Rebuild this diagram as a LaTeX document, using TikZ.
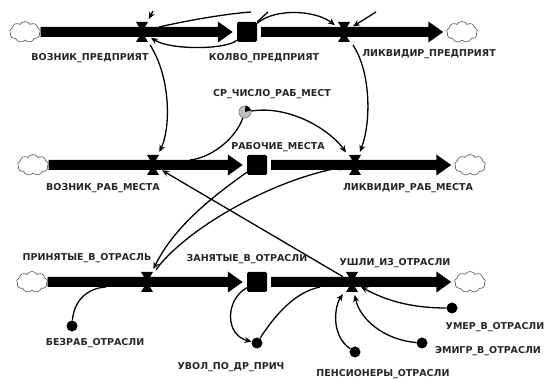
\documentclass[tikz,border=0pt]{standalone}
\usepackage{fontspec}
\setmainfont{DejaVu Sans}
\usetikzlibrary{arrows.meta,shapes.symbols}
\begin{document}
\begin{tikzpicture}[x=1pt,y=-1pt,
  lbl/.style={font=\bfseries\fontsize{9.5}{11}\selectfont, inner sep=0pt, text height=7pt, text depth=0pt, text=black!85},
  cloudn/.style={cloud, cloud puffs=9, cloud puff arc=120, aspect=1.5, draw=black!60, line width=0.7pt, minimum width=31pt, minimum height=21pt, inner sep=0pt},
  stock/.style={fill=black, minimum size=20pt, inner sep=0pt, rounded corners=1.5pt},
  valve/.style={minimum width=12pt, minimum height=20pt, inner sep=0pt, outer sep=3pt,
    path picture={\fill[black] (path picture bounding box.north west) -- (path picture bounding box.north east) -- (path picture bounding box.south west) -- (path picture bounding box.south east) -- cycle;}},
  pipe/.style={line width=10pt, -{Triangle[length=15pt,width=20pt]}},
  conn/.style={line width=1.3pt, -{Stealth[length=7pt,width=6pt]}},
  plain/.style={line width=1.3pt},
  auxb/.style={circle, fill=black, minimum size=11pt, inner sep=0pt},
  auxg/.style={circle, fill=black!25, draw=black!55, line width=0.6pt, minimum size=12pt, inner sep=0pt}
]
\useasboundingbox (0,0) rectangle (549,379);

% row 1
\node[cloudn] (cl1) at (25,32) {};
\node[cloudn] (cr1) at (462,32) {};
\node[stock] (s1) at (247,32) {};
% row 2
\node[cloudn] (cl2) at (33,165) {};
\node[cloudn] (cr2) at (470,165) {};
\node[stock] (s2) at (257,165) {};
% row 3
\node[cloudn] (cl3) at (32,282) {};
\node[cloudn] (cr3) at (470,282) {};
\node[stock] (s3) at (257,282) {};

% pipes
\draw[pipe] (cl1.east) -- ([xshift=-4pt]s1.west);
\draw[pipe] ([xshift=4pt]s1.east) -- ([xshift=-3pt]cr1.west);
\draw[pipe] (cl2.east) -- ([xshift=-4pt]s2.west);
\draw[pipe] ([xshift=4pt]s2.east) -- ([xshift=-3pt]cr2.west);
\draw[pipe] (cl3.east) -- ([xshift=-4pt]s3.west);
\draw[pipe] ([xshift=4pt]s3.east) -- ([xshift=-3pt]cr3.west);

% valves
\node[valve] (v1a) at (142,32) {};
\node[valve] (v1b) at (344,32) {};
\node[valve] (v2a) at (153,165) {};
\node[valve] (v2b) at (355,165) {};
\node[valve] (v3a) at (147,282) {};
\node[valve] (v3b) at (352,282) {};

% auxiliaries
\node[auxg] (a1) at (245,112) {};
\fill[black] (a1.center) -- (a1.15) -- (a1.50) -- (a1.85) -- cycle;
\node[auxb] (b1) at (72,326) {};
\node[auxb] (b2) at (257,343) {};
\node[auxb] (b3) at (355,352) {};
\node[auxb] (b4) at (422,343) {};
\node[auxb] (b5) at (452,308) {};

% free ends
\coordinate (t1) at (153,11);
\coordinate (t2) at (251,12);
\coordinate (t3) at (376,12);
\coordinate (t4) at (268,12);
\coordinate (p1) at (159,27);
\coordinate (p2) at (190,160);
\coordinate (p3) at (106,287);
\coordinate (p4) at (320,287);

% connectors
\draw[conn] (t1) -- (v1a);
\draw[plain] (p1) .. controls (190,20) and (225,14) .. (t2);
\draw[plain] (s1.north east) -- (t4);
\draw[conn] (s1) .. controls (275,8) and (315,10) .. (v1b);
\draw[conn] (t3) -- (v1b);
\draw[conn] (s1) .. controls (225,50) and (170,50) .. (v1a);
\draw[conn] (v1a) .. controls (172,80) and (170,130) .. (v2a);
\draw[conn] (v1b) .. controls (370,70) and (372,120) .. (v2b);
\draw[conn] (a1) .. controls (290,105) and (330,130) .. (v2b);
\draw[plain] (a1) .. controls (235,140) and (210,158) .. (p2);
\draw[conn] (s2) .. controls (215,195) and (175,225) .. (v3a);
\draw[conn] (v3a) .. controls (185,230) and (270,180) .. (v2b);
\draw[conn] (v3b) -- (v2a);
\draw[plain] (b1) .. controls (74,300) and (88,288) .. (p3);
\draw[conn] (s3) .. controls (225,300) and (225,335) .. (b2);
\draw[plain] (b2) .. controls (275,315) and (295,292) .. (p4);
\draw[conn] (b3) .. controls (330,335) and (335,305) .. (v3b);
\draw[conn] (b4) .. controls (385,340) and (360,320) .. (v3b);
\draw[conn] (b5) .. controls (410,308) and (385,300) .. (v3b);

% labels
\node[lbl] (l1) at (90,57) {ВОЗНИК\_ПРЕДПРИЯТ};
\node[lbl] (l2) at (264,57) {КОЛВО\_ПРЕДПРИЯТ};
\node[lbl] (l3) at (429,53) {ЛИКВИДИР\_ПРЕДПРИЯТ};
\node[lbl] (l4) at (272,93) {СР\_ЧИСЛО\_РАБ\_МЕСТ};
\node[lbl] (l5) at (278,146) {РАБОЧИЕ\_МЕСТА};
\node[lbl] (l6) at (103,187) {ВОЗНИК\_РАБ\_МЕСТА};
\node[lbl] (l7) at (408,187) {ЛИКВИДИР\_РАБ\_МЕСТА};
\node[lbl] (l8) at (87,257) {ПРИНЯТЫЕ\_В\_ОТРАСЛЬ};
\node[lbl] (l9) at (247,258) {ЗАНЯТЫЕ\_В\_ОТРАСЛИ};
\node[lbl] (l10) at (395,262) {УШЛИ\_ИЗ\_ОТРАСЛИ};
\node[lbl] (l11) at (95,342) {БЕЗРАБ\_ОТРАСЛИ};
\node[lbl] (l12) at (231,366) {УВОЛ\_ПО\_ДР\_ПРИЧ};
\node[lbl] (l13) at (383,373) {ПЕНСИОНЕРЫ\_ОТРАСЛИ};
\node[lbl] (l14) at (488,350) {ЭМИГР\_В\_ОТРАСЛИ};
\node[lbl] (l15) at (495,326) {УМЕР\_В\_ОТРАСЛИ};
\end{tikzpicture}
\end{document}
